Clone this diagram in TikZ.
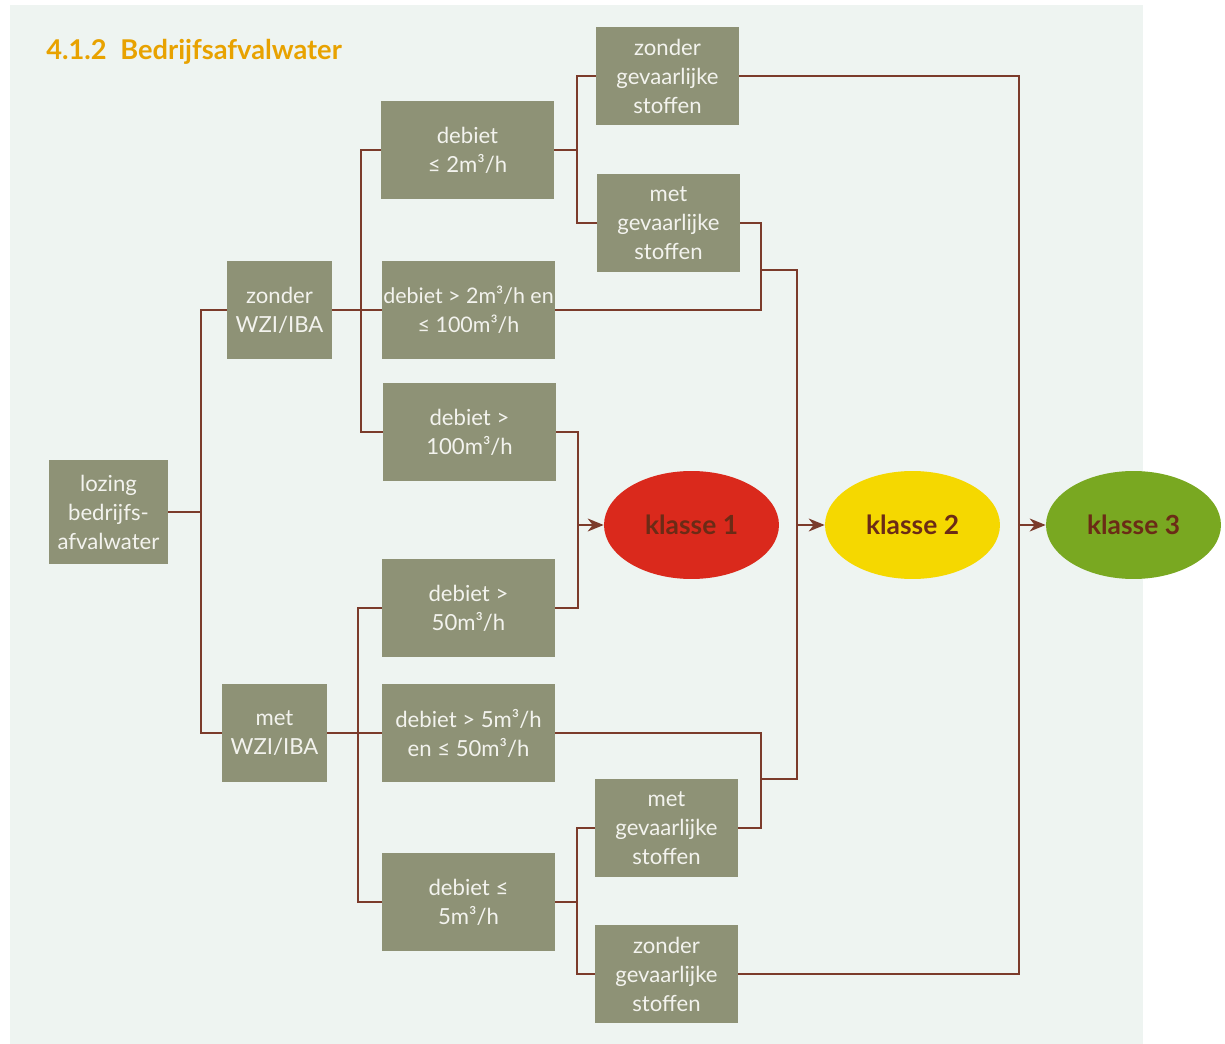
\documentclass[tikz,border=0pt]{standalone}
\usepackage{fontspec}
\setmainfont{Lato}
\usepackage{tikz}
\usetikzlibrary{arrows.meta,shapes.geometric}
\definecolor{panel}{HTML}{EEF4F1}
\definecolor{olive}{HTML}{8E9276}
\definecolor{boxtext}{HTML}{F3F3EE}
\definecolor{wire}{HTML}{7B3B2B}
\definecolor{heading}{HTML}{E8A200}
\definecolor{klassetext}{HTML}{6B2B16}
\definecolor{kred}{HTML}{DA291C}
\definecolor{kyellow}{HTML}{F5D800}
\definecolor{kgreen}{HTML}{79A821}
\tikzset{
  box/.style={fill=olive, text=boxtext, align=center, inner sep=0pt, minimum height=1.96cm, font=\fontsize{12.6}{16.5}\selectfont},
  boxs/.style={box, minimum width=2.1cm},
  boxd/.style={box, minimum width=3.46cm},
  boxg/.style={box, minimum width=2.86cm},
  klasse/.style={ellipse, inner sep=0pt, minimum width=3.5cm, minimum height=2.16cm, text=klassetext, font=\fontsize{15}{17}\selectfont\bfseries},
  ln/.style={line width=.8pt, draw=wire},
  ar/.style={ln, -{Stealth[length=3.2mm, width=2.6mm, inset=1mm]}},
}
\begin{document}
\begin{tikzpicture}[x=0.02cm, y=-0.02cm]
    \useasboundingbox (0,0) rectangle (1225,1044);
    \fill[panel] (10,5) rectangle (1143,1044);
    \node[font=\fontsize{15.5}{18}\selectfont\bfseries, text=heading, anchor=base west, inner sep=0pt] (titel) at (46,60) {4.1.2\hspace{0.5em}Bedrijfsafvalwater};

    \node[box, minimum width=2.38cm, minimum height=2.1cm] (lozing) at (108.5,512) {lozing\\bedrijfs-\\afvalwater};
    \node[boxs] (zwzi) at (279.5,310) {zonder\\WZI/IBA};
    \node[boxs] (mwzi) at (274.5,733) {met\\WZI/IBA};

    \node[boxd] (d1) at (467.5,150) {debiet\\≤ 2m³/h};
    \node[boxd, font=\fontsize{12.2}{16.5}\selectfont] (d2) at (468.5,310) {debiet > 2m³/h en\\≤ 100m³/h};
    \node[boxd] (d3) at (469.5,432) {debiet >\\100m³/h};
    \node[boxd] (d4) at (468.5,608) {debiet >\\50m³/h};
    \node[boxd] (d5) at (468.5,733) {debiet > 5m³/h\\en ≤ 50m³/h};
    \node[boxd] (d6) at (468.5,902) {debiet ≤\\5m³/h};

    \node[boxg] (g1) at (667.5,76) {zonder\\gevaarlijke\\stoffen};
    \node[boxg] (g2) at (668.5,223) {met\\gevaarlijke\\stoffen};
    \node[boxg] (g3) at (666.5,828) {met\\gevaarlijke\\stoffen};
    \node[boxg] (g4) at (666.5,974) {zonder\\gevaarlijke\\stoffen};

    \node[klasse, fill=kred] (k1) at (691.5,525) {klasse 1};
    \node[klasse, fill=kyellow] (k2) at (912.5,525) {klasse 2};
    \node[klasse, fill=kgreen] (k3) at (1133.5,525) {klasse 3};

    \coordinate (busA) at (201,512);
    \coordinate (busB) at (361,310);
    \coordinate (busC) at (358,733);
    \coordinate (busD) at (577,150);
    \coordinate (busJ) at (577,902);
    \coordinate (busE) at (578,525);
    \coordinate (busF) at (761,270);
    \coordinate (busG) at (761,779);
    \coordinate (busK) at (797,525);
    \coordinate (busH) at (1019,525);

    \draw[ln] (lozing.east) -- (busA);
    \draw[ln] (zwzi.west) -| (busA) |- (mwzi.west);
    \draw[ln] (zwzi.east) -- (d2.west);
    \draw[ln] (d1.west) -| (busB) |- (d3.west);
    \draw[ln] (mwzi.east) -- (d5.west);
    \draw[ln] (d4.west) -| (busC) |- (d6.west);
    \draw[ln] (d1.east) -- (busD);
    \draw[ln] (g1.west) -| (busD) |- (g2.west);
    \draw[ln] (d6.east) -- (busJ);
    \draw[ln] (g3.west) -| (busJ) |- (g4.west);
    \draw[ln] (d3.east) -| (busE) |- (d4.east);
    \draw[ar] (busE) -- (k1.west);
    \draw[ln] (g2.east) -| (busF) |- (d2.east);
    \draw[ln] (d5.east) -| (busG) |- (g3.east);
    \draw[ln] (busF) -- (busF -| busK) -- (busG -| busK) -- (busG);
    \draw[ar] (busK) -- (k2.west);
    \draw[ln] (g1.east) -| (busH) |- (g4.east);
    \draw[ar] (busH) -- (k3.west);
  \end{tikzpicture}
\end{document}
